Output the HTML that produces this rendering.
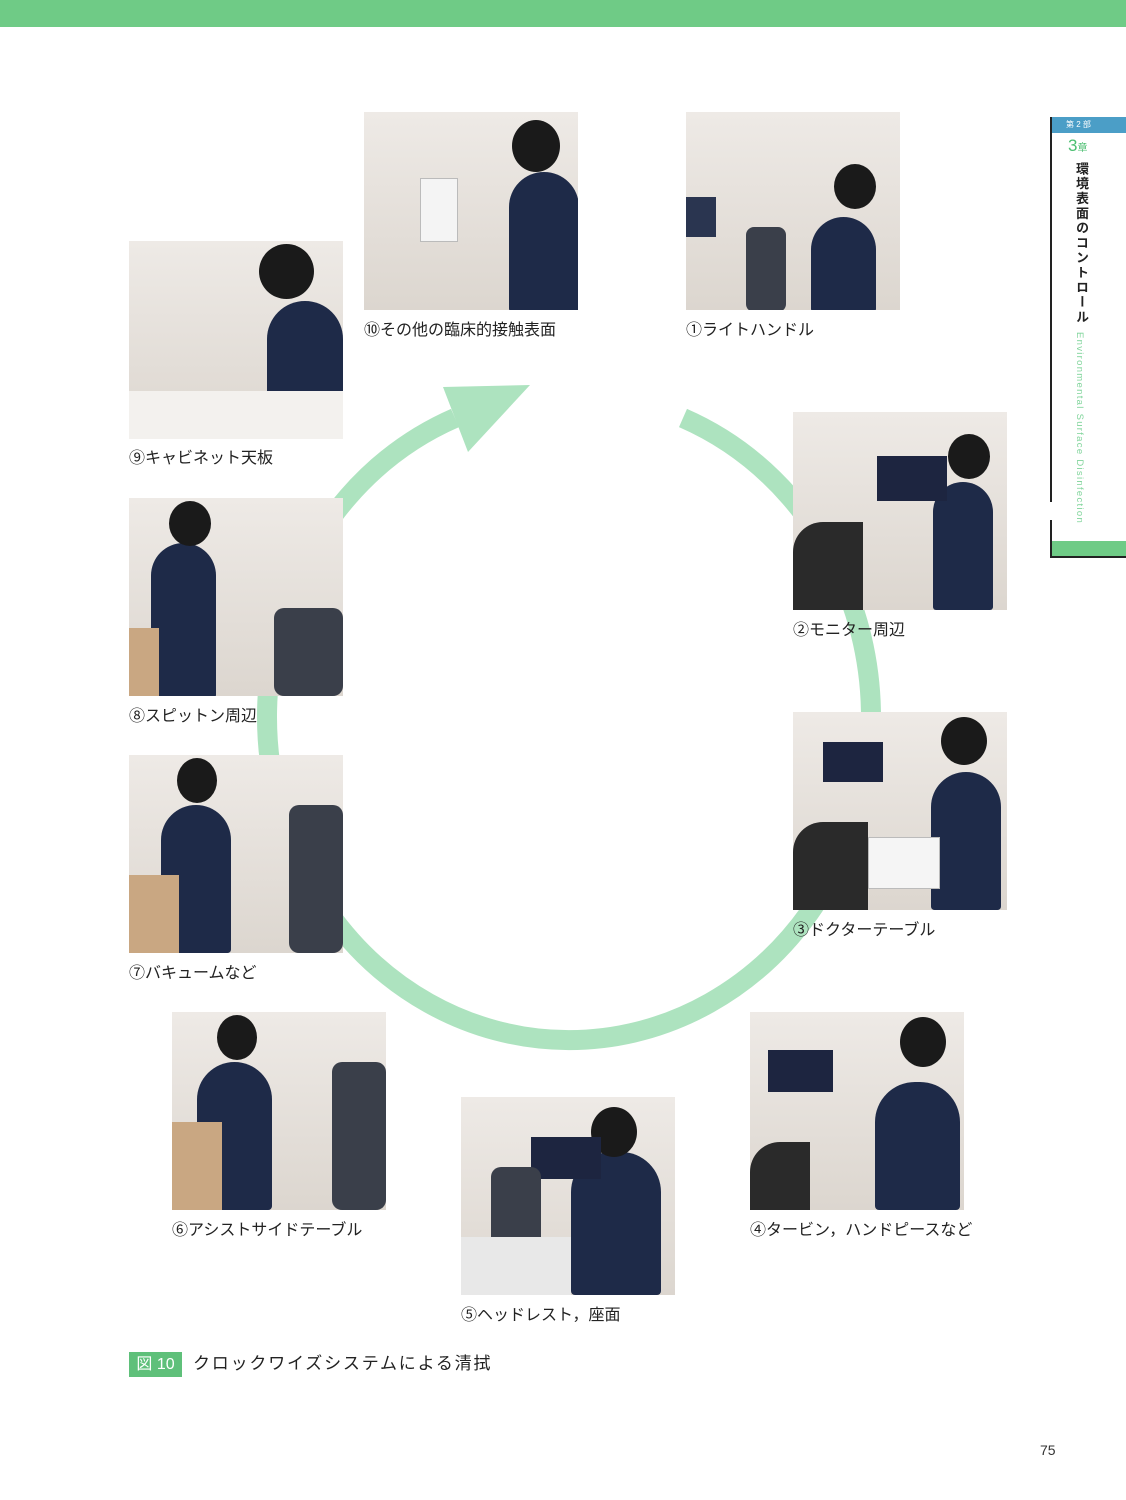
<!DOCTYPE html>
<html><head><meta charset="utf-8"><style>
body{margin:0;width:1126px;height:1500px;position:relative;background:#fff;font-family:"Liberation Sans","Noto Sans CJK JP",sans-serif;overflow:hidden}
.p{position:absolute;width:214px;height:198px;background:linear-gradient(180deg,#eeeae6,#dcd6cf);overflow:hidden}
.p .f{position:absolute;background:#1e2a48;border-radius:40px 40px 4px 4px}
.p .h{position:absolute;background:#1a1a1a;border-radius:50%}
.l{position:absolute;font-size:16px;color:#222}
</style></head><body>
<div style="position:absolute;left:0;top:0;width:1126px;height:27px;background:#6fcb86"></div>
<svg style="position:absolute;left:0;top:0" width="1126" height="1500">
<path d="M683 418 A302 323 0 1 1 455 418" fill="none" stroke="#ade3bf" stroke-width="20"/>
<polygon points="530,385 443,387 468,452" fill="#ade3bf"/>
</svg>
<div class="p" style="left:364px;top:112px"><div class="f" style="left:145px;top:60px;width:70px;height:140px"></div><div class="h" style="left:148px;top:8px;width:48px;height:52px"></div><div style="position:absolute;left:56px;top:66px;width:36px;height:62px;background:#f4f4f4;border:1px solid #bbb"></div></div>
<div class="p" style="left:686px;top:112px"><div class="f" style="left:125px;top:105px;width:65px;height:95px"></div><div class="h" style="left:148px;top:52px;width:42px;height:45px"></div><div style="position:absolute;left:60px;top:115px;width:40px;height:85px;background:#3a3f4a;border-radius:8px"></div><div style="position:absolute;left:0;top:85px;width:30px;height:40px;background:#2a3550"></div></div>
<div class="p" style="left:129px;top:241px"><div class="f" style="left:138px;top:60px;width:76px;height:140px"></div><div class="h" style="left:130px;top:3px;width:55px;height:55px"></div><div style="position:absolute;left:0;top:150px;width:214px;height:48px;background:#f3f1ee"></div></div>
<div class="p" style="left:793px;top:412px"><div class="f" style="left:140px;top:70px;width:60px;height:128px"></div><div class="h" style="left:155px;top:22px;width:42px;height:45px"></div><div style="position:absolute;left:84px;top:44px;width:70px;height:45px;background:#1d2540"></div><div style="position:absolute;left:0;top:110px;width:70px;height:88px;background:#2a2a2a;border-radius:30px 0 0 0"></div></div>
<div class="p" style="left:129px;top:498px"><div class="f" style="left:22px;top:45px;width:65px;height:155px"></div><div class="h" style="left:40px;top:3px;width:42px;height:45px"></div><div style="position:absolute;left:145px;top:110px;width:69px;height:88px;background:#3a3f4a;border-radius:10px"></div><div style="position:absolute;left:0;top:130px;width:30px;height:68px;background:#c9a782"></div></div>
<div class="p" style="left:793px;top:712px"><div class="f" style="left:138px;top:60px;width:70px;height:138px"></div><div class="h" style="left:148px;top:5px;width:46px;height:48px"></div><div style="position:absolute;left:30px;top:30px;width:60px;height:40px;background:#1d2540"></div><div style="position:absolute;left:0;top:110px;width:75px;height:88px;background:#2a2a2a;border-radius:30px 0 0 0"></div><div style="position:absolute;left:75px;top:125px;width:70px;height:50px;background:#f5f5f5;border:1px solid #bbb"></div></div>
<div class="p" style="left:129px;top:755px"><div class="f" style="left:32px;top:50px;width:70px;height:148px"></div><div class="h" style="left:48px;top:3px;width:40px;height:45px"></div><div style="position:absolute;left:0;top:120px;width:50px;height:78px;background:#c9a782"></div><div style="position:absolute;left:160px;top:50px;width:54px;height:148px;background:#3a3f4a;border-radius:10px"></div></div>
<div class="p" style="left:172px;top:1012px"><div class="f" style="left:25px;top:50px;width:75px;height:148px"></div><div class="h" style="left:45px;top:3px;width:40px;height:45px"></div><div style="position:absolute;left:0;top:110px;width:50px;height:88px;background:#c9a782"></div><div style="position:absolute;left:160px;top:50px;width:54px;height:148px;background:#3a3f4a;border-radius:10px"></div></div>
<div class="p" style="left:750px;top:1012px"><div class="f" style="left:125px;top:70px;width:85px;height:128px"></div><div class="h" style="left:150px;top:5px;width:46px;height:50px"></div><div style="position:absolute;left:18px;top:38px;width:65px;height:42px;background:#1d2540"></div><div style="position:absolute;left:0;top:130px;width:60px;height:68px;background:#2a2a2a;border-radius:30px 0 0 0"></div></div>
<div class="p" style="left:461px;top:1097px"><div class="f" style="left:110px;top:55px;width:90px;height:143px"></div><div class="h" style="left:130px;top:10px;width:46px;height:50px"></div><div style="position:absolute;left:70px;top:40px;width:70px;height:42px;background:#1d2540"></div><div style="position:absolute;left:30px;top:70px;width:50px;height:90px;background:#3a3f4a;border-radius:10px"></div><div style="position:absolute;left:0;top:140px;width:110px;height:58px;background:#e8e8e8"></div></div>
<div class="l" style="left:364px;top:316px">⑩その他の臨床的接触表面</div>
<div class="l" style="left:686px;top:316px">①ライトハンドル</div>
<div class="l" style="left:129px;top:444px">⑨キャビネット天板</div>
<div class="l" style="left:793px;top:616px">②モニター周辺</div>
<div class="l" style="left:129px;top:702px">⑧スピットン周辺</div>
<div class="l" style="left:793px;top:916px">③ドクターテーブル</div>
<div class="l" style="left:129px;top:959px">⑦バキュームなど</div>
<div class="l" style="left:172px;top:1216px">⑥アシストサイドテーブル</div>
<div class="l" style="left:750px;top:1216px">④タービン，ハンドピースなど</div>
<div class="l" style="left:461px;top:1301px">⑤ヘッドレスト，座面</div>
<div style="position:absolute;left:129px;top:1352px;width:53px;height:25px;background:#5fc07a;color:#fff;font-size:16px;line-height:25px;text-align:center">図 10</div>
<div style="position:absolute;left:193px;top:1351px;font-size:17px;letter-spacing:1.8px;color:#222;line-height:25px">クロックワイズシステムによる清拭</div>
<div style="position:absolute;left:1040px;top:1442px;font-size:14px;color:#333">75</div>
<div style="position:absolute;left:1050px;top:117px;width:2px;height:385px;background:#222"></div>
<div style="position:absolute;left:1050px;top:520px;width:2px;height:38px;background:#222"></div>
<div style="position:absolute;left:1050px;top:556px;width:76px;height:2px;background:#222"></div>
<div style="position:absolute;left:1052px;top:117px;width:74px;height:16px;background:#4b9ec7;color:#fff;font-size:8px;line-height:16px;padding-left:14px;box-sizing:border-box">第 2 部</div>
<div style="position:absolute;left:1068px;top:136px;color:#4cbf72;font-size:17px;line-height:20px">3<span style="font-size:10px">章</span></div>
<div style="position:absolute;left:1072px;top:162px;writing-mode:vertical-rl;font-size:13px;font-weight:bold;color:#222;letter-spacing:1.8px">環境表面のコントロール</div>
<div style="position:absolute;left:1074px;top:332px;writing-mode:vertical-rl;font-size:9.5px;color:#7fd49a;letter-spacing:1.3px">Environmental Surface Disinfection</div>
<div style="position:absolute;left:1052px;top:541px;width:74px;height:15px;background:#6fcb86"></div>
</body></html>
